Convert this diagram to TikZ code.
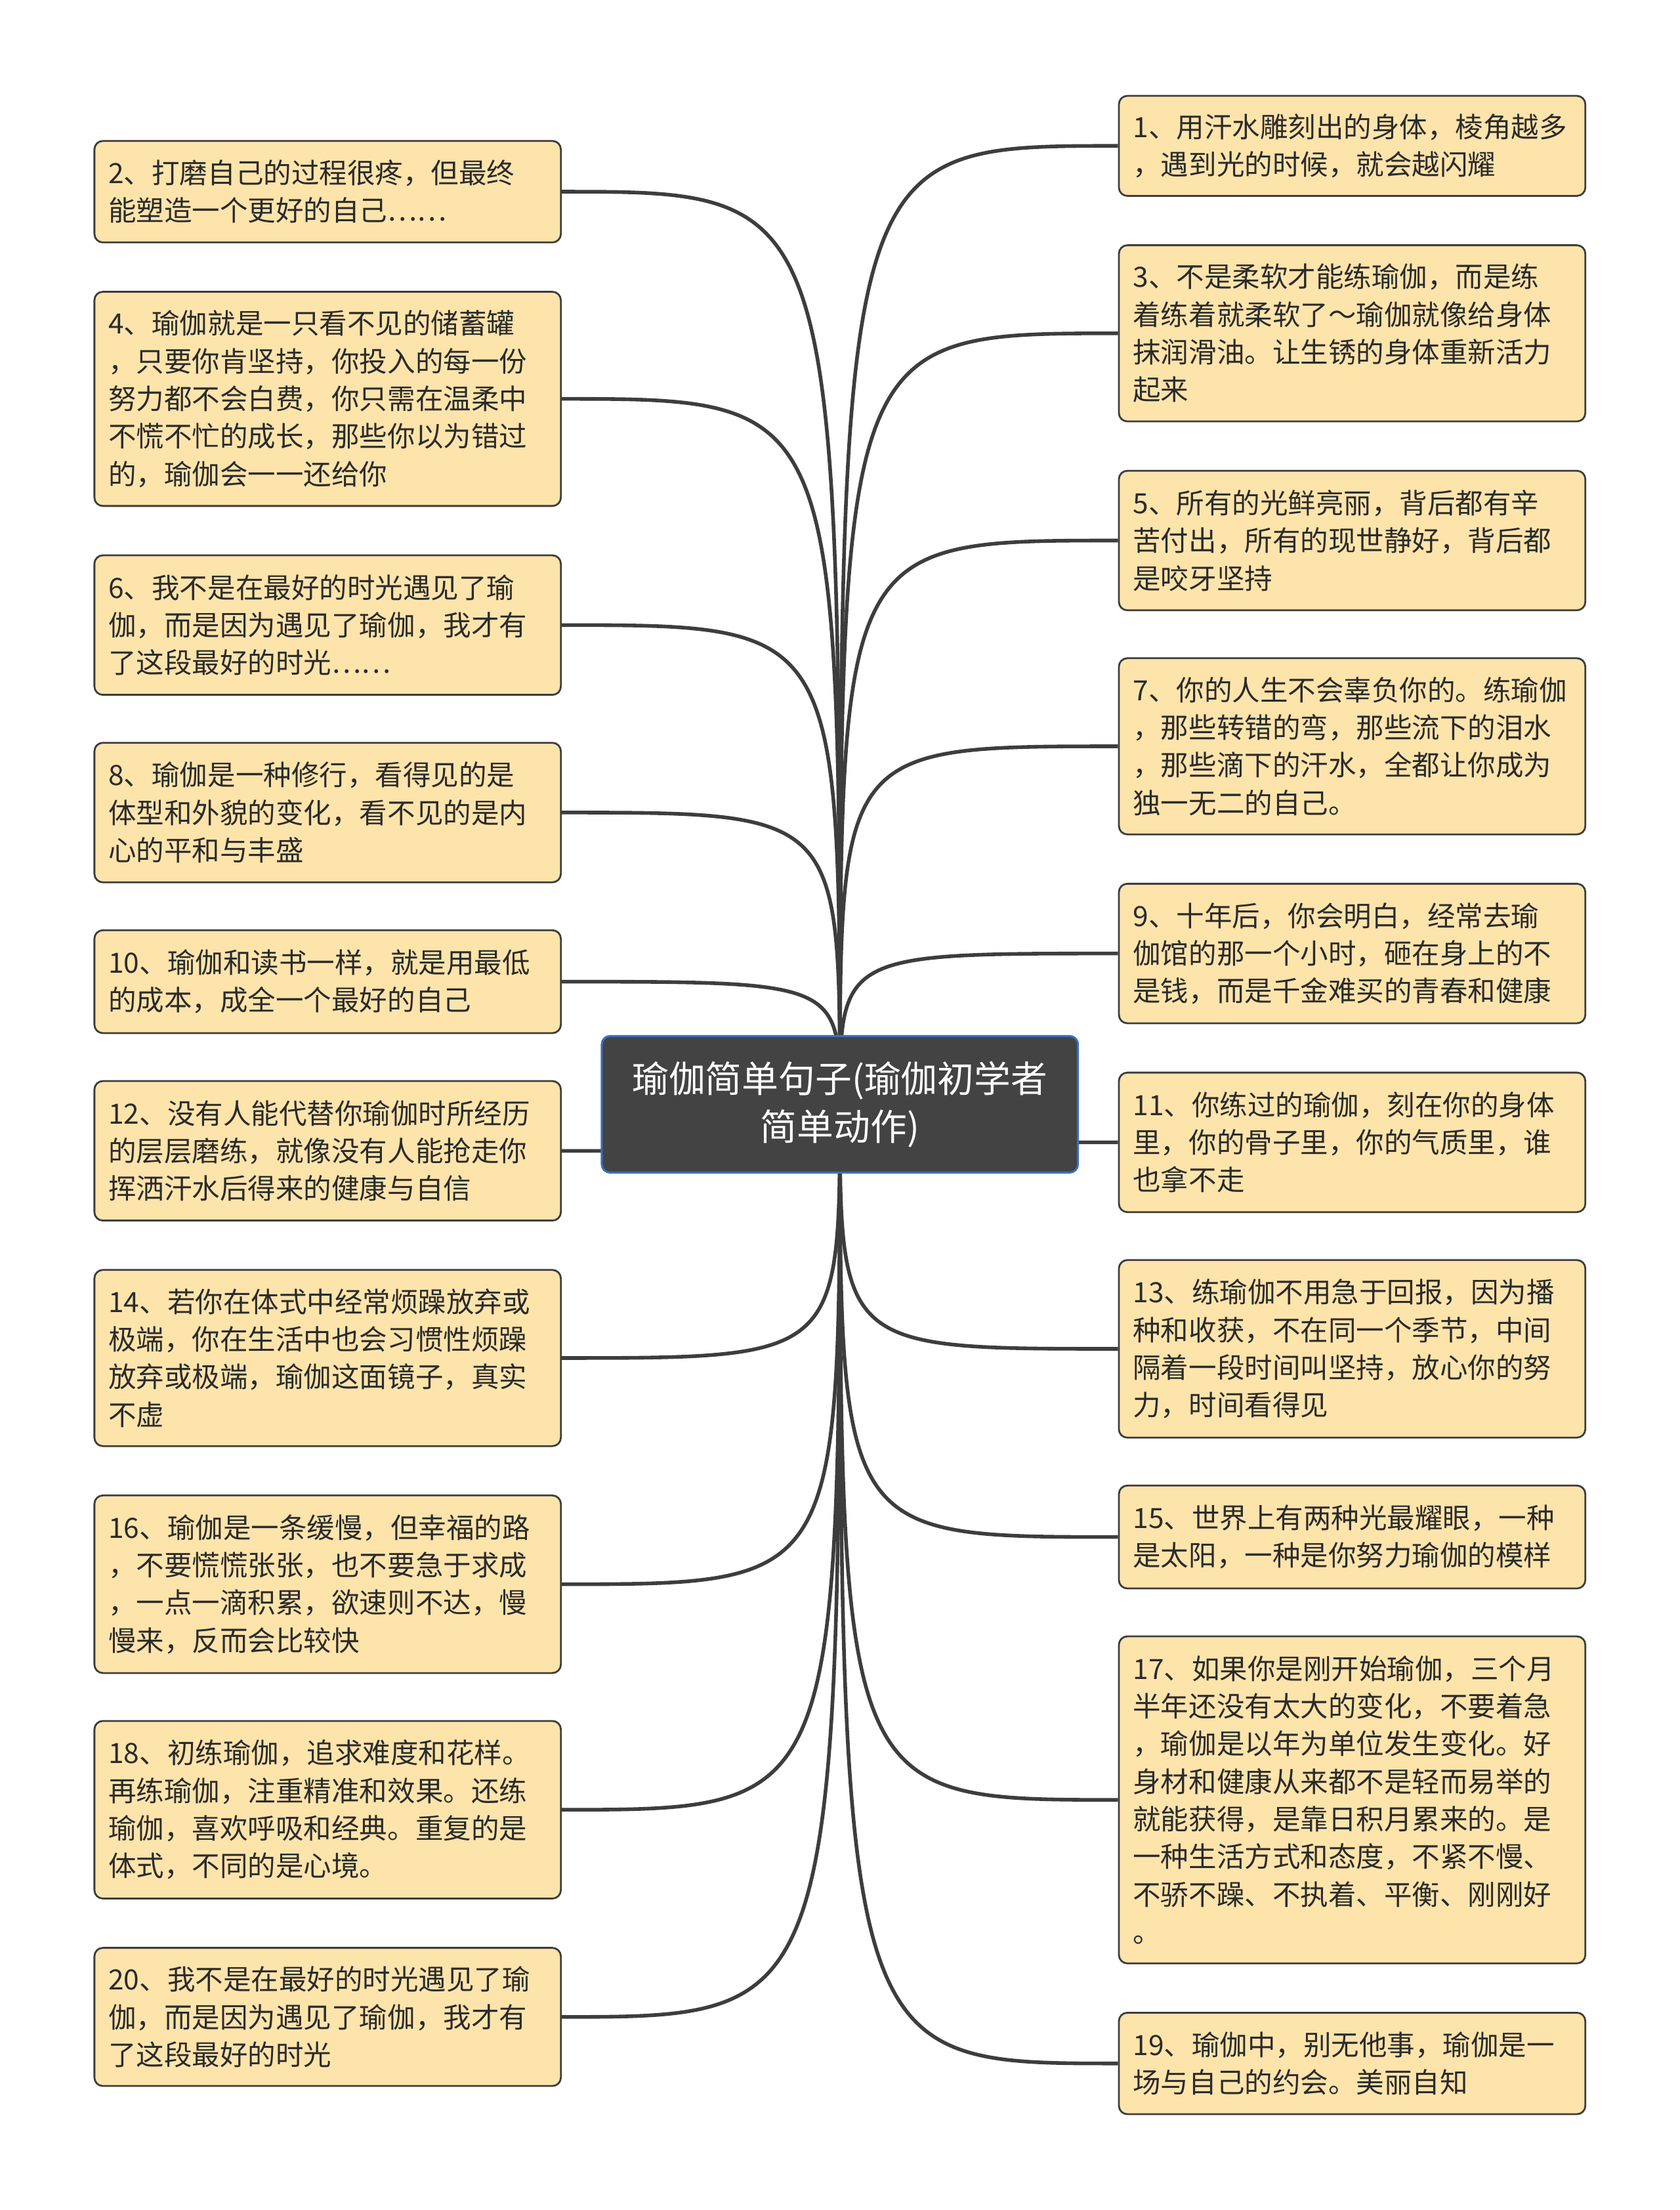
\documentclass[tikz,border=0pt]{standalone}
\usepackage{fontspec}
\setmainfont{Noto Sans CJK SC}
\definecolor{leaffill}{HTML}{FDE4AB}
\definecolor{linec}{HTML}{3D3D3D}
\definecolor{textc}{HTML}{2B2B2B}
\definecolor{rootfill}{HTML}{434343}
\definecolor{rootborder}{HTML}{3A70C4}
\pgfdeclarelayer{bg}
\pgfdeclarelayer{conns}
\pgfsetlayers{bg,conns,main}
\newcommand{\leaffont}{\fontsize{19.8}{26.7}\selectfont}
\newcommand{\rootfont}{\fontsize{26}{34}\selectfont}
\tikzset{
  leaf/.style={draw=linec, line width=1.3pt, fill=leaffill, rounded corners=6pt,
    text width=311pt, inner xsep=10pt, inner ysep=0pt, align=left,
    font=\leaffont, text=textc},
  rootbox/.style={draw=rootborder, line width=1.4pt, fill=rootfill, rounded corners=6pt,
    minimum width=338pt, minimum height=97pt, align=center, font=\rootfont, text=white},
  conn/.style={draw=linec, line width=2.6pt},
}
\begin{document}
\begin{tikzpicture}[x=1pt,y=-1pt]
\begin{pgfonlayer}{bg}
\fill[white] (0,0) rectangle (1192,1568);
\end{pgfonlayer}
\useasboundingbox (0,0) rectangle (1192,1568);

\node[rootbox] (root) at (596,783.5) {瑜伽简单句子(瑜伽初学者\\简单动作)};

% left column
\node[leaf, minimum height=72pt] (n2) at (232.5,136) {2、打磨自己的过程很疼，但最终\\能塑造一个更好的自己……};
\node[leaf, minimum height=152pt] (n4) at (232.5,283) {4、瑜伽就是一只看不见的储蓄罐\\，只要你肯坚持，你投入的每一份\\努力都不会白费，你只需在温柔中\\不慌不忙的成长，那些你以为错过\\的，瑜伽会一一还给你};
\node[leaf, minimum height=99pt] (n6) at (232.5,443.5) {6、我不是在最好的时光遇见了瑜\\伽，而是因为遇见了瑜伽，我才有\\了这段最好的时光……};
\node[leaf, minimum height=99pt] (n8) at (232.5,576.5) {8、瑜伽是一种修行，看得见的是\\体型和外貌的变化，看不见的是内\\心的平和与丰盛};
\node[leaf, minimum height=73pt] (n10) at (232.5,696.5) {10、瑜伽和读书一样，就是用最低\\的成本，成全一个最好的自己};
\node[leaf, minimum height=99pt] (n12) at (232.5,816.5) {12、没有人能代替你瑜伽时所经历\\的层层磨练，就像没有人能抢走你\\挥洒汗水后得来的健康与自信};
\node[leaf, minimum height=125pt] (n14) at (232.5,963.5) {14、若你在体式中经常烦躁放弃或\\极端，你在生活中也会习惯性烦躁\\放弃或极端，瑜伽这面镜子，真实\\不虚};
\node[leaf, minimum height=126pt] (n16) at (232.5,1124) {16、瑜伽是一条缓慢，但幸福的路\\，不要慌慌张张，也不要急于求成\\，一点一滴积累，欲速则不达，慢\\慢来，反而会比较快};
\node[leaf, minimum height=126pt] (n18) at (232.5,1284) {18、初练瑜伽，追求难度和花样。\\再练瑜伽，注重精准和效果。还练\\瑜伽，喜欢呼吸和经典。重复的是\\体式，不同的是心境。};
\node[leaf, minimum height=98pt] (n20) at (232.5,1431) {20、我不是在最好的时光遇见了瑜\\伽，而是因为遇见了瑜伽，我才有\\了这段最好的时光};

% right column
\node[leaf, minimum height=71pt] (n1) at (959.5,103.5) {1、用汗水雕刻出的身体，棱角越多\\，遇到光的时候，就会越闪耀};
\node[leaf, minimum height=125pt] (n3) at (959.5,236.5) {3、不是柔软才能练瑜伽，而是练\\着练着就柔软了～瑜伽就像给身体\\抹润滑油。让生锈的身体重新活力\\起来};
\node[leaf, minimum height=99pt] (n5) at (959.5,383.5) {5、所有的光鲜亮丽，背后都有辛\\苦付出，所有的现世静好，背后都\\是咬牙坚持};
\node[leaf, minimum height=125pt] (n7) at (959.5,529.5) {7、你的人生不会辜负你的。练瑜伽\\，那些转错的弯，那些流下的泪水\\，那些滴下的汗水，全都让你成为\\独一无二的自己。};
\node[leaf, minimum height=99pt] (n9) at (959.5,676.5) {9、十年后，你会明白，经常去瑜\\伽馆的那一个小时，砸在身上的不\\是钱，而是千金难买的青春和健康};
\node[leaf, minimum height=99pt] (n11) at (959.5,810.5) {11、你练过的瑜伽，刻在你的身体\\里，你的骨子里，你的气质里，谁\\也拿不走};
\node[leaf, minimum height=126pt] (n13) at (959.5,957) {13、练瑜伽不用急于回报，因为播\\种和收获，不在同一个季节，中间\\隔着一段时间叫坚持，放心你的努\\力，时间看得见};
\node[leaf, minimum height=73pt] (n15) at (959.5,1090.5) {15、世界上有两种光最耀眼，一种\\是太阳，一种是你努力瑜伽的模样};
\node[leaf, minimum height=232pt] (n17) at (959.5,1277) {17、如果你是刚开始瑜伽，三个月\\半年还没有太大的变化，不要着急\\，瑜伽是以年为单位发生变化。好\\身材和健康从来都不是轻而易举的\\就能获得，是靠日积月累来的。是\\一种生活方式和态度，不紧不慢、\\不骄不躁、不执着、平衡、刚刚好\\。};
\node[leaf, minimum height=72pt] (n19) at (959.5,1464) {19、瑜伽中，别无他事，瑜伽是一\\场与自己的约会。美丽自知};

\begin{pgfonlayer}{conns}
\foreach \n in {n2,n4,n6,n8,n10,n12,n14,n16,n18,n20}{
  \draw[conn] (root.center) .. controls (root.center |- \n.east) .. (\n.east);
}
\foreach \n in {n1,n3,n5,n7,n9,n11,n13,n15,n17,n19}{
  \draw[conn] (root.center) .. controls (root.center |- \n.west) .. (\n.west);
}
\end{pgfonlayer}
\end{tikzpicture}
\end{document}
